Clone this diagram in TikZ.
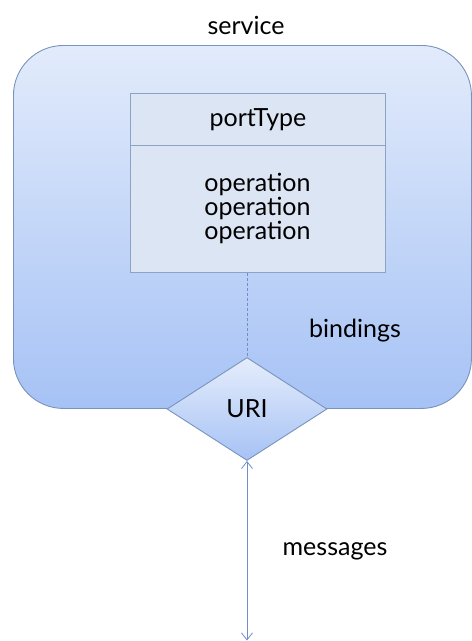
\documentclass[tikz,border=0pt]{standalone}
\usepackage{fontspec}
\setmainfont{Lato}
\usetikzlibrary{shapes.geometric,arrows.meta,positioning}
\definecolor{frame}{HTML}{7A93BD}
\definecolor{topblue}{HTML}{E2EBFB}
\definecolor{botblue}{HTML}{A6C2F5}
\definecolor{boxfill}{HTML}{DCE5F3}
\definecolor{boxline}{HTML}{8EA3C4}
\definecolor{linkblue}{HTML}{6E8FC8}
\tikzset{
  lbl/.style={font=\fontsize{25}{24}\selectfont, text=black, inner sep=0pt},
  servicebox/.style={draw=frame, line width=0.9pt, rounded corners=50pt, top color=topblue, bottom color=botblue},
  porttop/.style={draw=boxline, line width=0.9pt, fill=boxfill, minimum width=255pt, minimum height=52pt, inner sep=0pt},
  portbody/.style={draw=boxline, line width=0.9pt, fill=boxfill, minimum width=255pt, minimum height=127pt, inner sep=0pt, align=center},
  uri/.style={diamond, draw=frame, line width=0.9pt, top color=topblue!90!white, bottom color=botblue, minimum width=160pt, minimum height=103pt, inner sep=0pt, aspect=1.55},
  link/.style={draw=linkblue, line width=0.8pt},
}
\begin{document}
\begin{tikzpicture}[x=1pt,y=-1pt]
\useasboundingbox (0,0) rectangle (472,641);
\node[servicebox, minimum width=458pt, minimum height=363pt, anchor=north west] (svc) at (13,45) {};
\node[lbl] (svclbl) at (246,25) {service};
\node[porttop, anchor=north west] (pt) at (130,93) {};
\node[lbl] at (pt.center) {portType};
\node[portbody, anchor=north west] (ops) at (130,145) {};
\node[lbl, align=center] (opstext) at (257.5,208) {operation\\operation\\operation};
\node[uri] (uri) at (247,409) {};
\node[lbl] (urilbl) at (uri.center) {URI};
\node[lbl] (bind) at (355,331) {bindings};
\node[lbl] (msg) at (335,551) {messages};
\coordinate (bottom) at (247,640.5);
\draw[link, dashed, dash pattern=on 3pt off 2pt] (ops.south -| uri.north) -- (uri.north);
\draw[link, {Straight Barb[length=7pt,width=11pt]}-{Straight Barb[length=7pt,width=11pt]}] (uri.south) -- (bottom);
\end{tikzpicture}
\end{document}
